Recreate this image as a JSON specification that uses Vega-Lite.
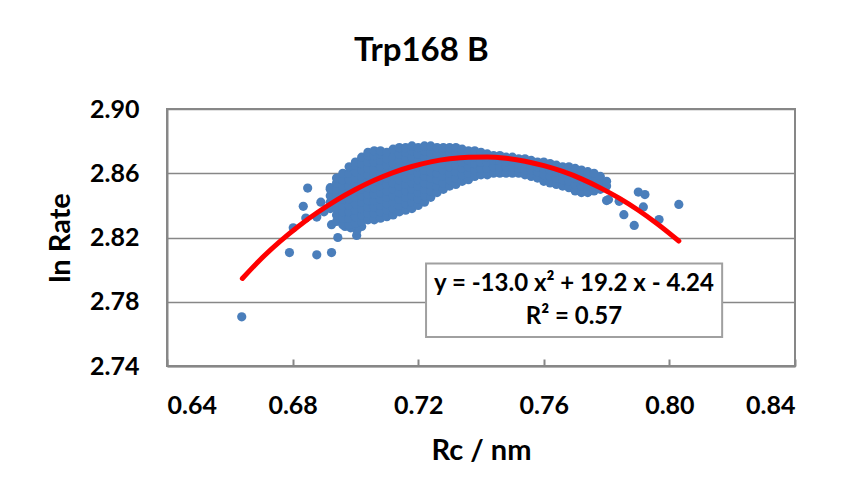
{
  "$schema": "https://vega.github.io/schema/vega-lite/v6.json",
  "autosize": {"type": "none"},
  "padding": {"left": 167, "top": 109, "right": 48, "bottom": 132},
  "width": 628,
  "height": 257,
  "background": "white",
  "title": {"text": "Trp168 B", "font": "Lato", "fontWeight": "bold", "fontSize": 33, "color": "black", "anchor": "middle", "frame": "bounds", "offset": 29},
  "config": {
    "view": {"stroke": "#878787", "strokeWidth": 2},
    "axis": {"labelFont": "Lato", "labelFontWeight": "bold", "labelFontSize": 25, "labelColor": "black", "titleFont": "Lato", "titleFontWeight": "bold", "titleFontSize": 29, "titleColor": "black", "domainColor": "#878787", "domainWidth": 2, "gridColor": "#878787", "gridWidth": 1.5, "tickColor": "#878787", "tickWidth": 2}
  },
  "datasets": {
    "pts": [
      {"x":0.6638,"y":2.7706},{"x":0.6790,"y":2.8106},{"x":0.6802,"y":2.8260},{"x":0.6842,"y":2.8321},{"x":0.6834,"y":2.8394},{"x":0.6848,"y":2.8508},{"x":0.6877,"y":2.8092},{"x":0.6924,"y":2.8106},{"x":0.6944,"y":2.8200},{"x":0.7004,"y":2.8213},{"x":0.6890,"y":2.8420},{"x":0.6877,"y":2.8327},{"x":0.6924,"y":2.8280},{"x":0.6967,"y":2.8269},{"x":0.7020,"y":2.8269},{"x":0.6924,"y":2.8494},{"x":0.6900,"y":2.8360},{"x":0.6920,"y":2.8510},{"x":0.7005,"y":2.8245},{"x":0.6985,"y":2.8260},
      {"x":0.7806,"y":2.8436},{"x":0.7840,"y":2.8425},{"x":0.7855,"y":2.8342},{"x":0.7888,"y":2.8275},{"x":0.7901,"y":2.8483},{"x":0.7922,"y":2.8467},{"x":0.7917,"y":2.8390},{"x":0.7967,"y":2.8312},{"x":0.8030,"y":2.8406},{"x":0.7800,"y":2.8430},
      {"x":0.692,"y":2.838},{"x":0.692,"y":2.842},{"x":0.692,"y":2.846},{"x":0.692,"y":2.850},
      {"x":0.694,"y":2.830},{"x":0.694,"y":2.834},{"x":0.694,"y":2.838},{"x":0.694,"y":2.842},{"x":0.694,"y":2.846},{"x":0.694,"y":2.850},{"x":0.694,"y":2.854},{"x":0.694,"y":2.857},
      {"x":0.696,"y":2.828},{"x":0.696,"y":2.832},{"x":0.696,"y":2.836},{"x":0.696,"y":2.840},{"x":0.696,"y":2.844},{"x":0.696,"y":2.848},{"x":0.696,"y":2.852},{"x":0.696,"y":2.856},{"x":0.696,"y":2.860},
      {"x":0.698,"y":2.828},{"x":0.698,"y":2.832},{"x":0.698,"y":2.836},{"x":0.698,"y":2.840},{"x":0.698,"y":2.844},{"x":0.698,"y":2.848},{"x":0.698,"y":2.852},{"x":0.698,"y":2.856},{"x":0.698,"y":2.860},{"x":0.698,"y":2.864},
      {"x":0.700,"y":2.829},{"x":0.700,"y":2.833},{"x":0.700,"y":2.837},{"x":0.700,"y":2.841},{"x":0.700,"y":2.845},{"x":0.700,"y":2.849},{"x":0.700,"y":2.853},{"x":0.700,"y":2.857},{"x":0.700,"y":2.861},{"x":0.700,"y":2.865},{"x":0.700,"y":2.867},
      {"x":0.702,"y":2.830},{"x":0.702,"y":2.834},{"x":0.702,"y":2.838},{"x":0.702,"y":2.842},{"x":0.702,"y":2.846},{"x":0.702,"y":2.850},{"x":0.702,"y":2.854},{"x":0.702,"y":2.858},{"x":0.702,"y":2.862},{"x":0.702,"y":2.866},{"x":0.702,"y":2.870},
      {"x":0.704,"y":2.831},{"x":0.704,"y":2.835},{"x":0.704,"y":2.839},{"x":0.704,"y":2.843},{"x":0.704,"y":2.847},{"x":0.704,"y":2.851},{"x":0.704,"y":2.855},{"x":0.704,"y":2.859},{"x":0.704,"y":2.863},{"x":0.704,"y":2.867},{"x":0.704,"y":2.871},{"x":0.704,"y":2.873},
      {"x":0.706,"y":2.831},{"x":0.706,"y":2.835},{"x":0.706,"y":2.839},{"x":0.706,"y":2.843},{"x":0.706,"y":2.847},{"x":0.706,"y":2.851},{"x":0.706,"y":2.855},{"x":0.706,"y":2.859},{"x":0.706,"y":2.863},{"x":0.706,"y":2.867},{"x":0.706,"y":2.871},{"x":0.706,"y":2.874},
      {"x":0.708,"y":2.832},{"x":0.708,"y":2.836},{"x":0.708,"y":2.840},{"x":0.708,"y":2.844},{"x":0.708,"y":2.848},{"x":0.708,"y":2.852},{"x":0.708,"y":2.856},{"x":0.708,"y":2.860},{"x":0.708,"y":2.864},{"x":0.708,"y":2.868},{"x":0.708,"y":2.872},{"x":0.708,"y":2.874},
      {"x":0.710,"y":2.833},{"x":0.710,"y":2.837},{"x":0.710,"y":2.841},{"x":0.710,"y":2.845},{"x":0.710,"y":2.849},{"x":0.710,"y":2.853},{"x":0.710,"y":2.857},{"x":0.710,"y":2.861},{"x":0.710,"y":2.865},{"x":0.710,"y":2.869},{"x":0.710,"y":2.873},
      {"x":0.712,"y":2.834},{"x":0.712,"y":2.838},{"x":0.712,"y":2.842},{"x":0.712,"y":2.846},{"x":0.712,"y":2.850},{"x":0.712,"y":2.854},{"x":0.712,"y":2.858},{"x":0.712,"y":2.862},{"x":0.712,"y":2.866},{"x":0.712,"y":2.870},{"x":0.712,"y":2.875},
      {"x":0.714,"y":2.836},{"x":0.714,"y":2.840},{"x":0.714,"y":2.844},{"x":0.714,"y":2.848},{"x":0.714,"y":2.852},{"x":0.714,"y":2.856},{"x":0.714,"y":2.860},{"x":0.714,"y":2.864},{"x":0.714,"y":2.868},{"x":0.714,"y":2.872},{"x":0.714,"y":2.876},
      {"x":0.716,"y":2.837},{"x":0.716,"y":2.841},{"x":0.716,"y":2.845},{"x":0.716,"y":2.849},{"x":0.716,"y":2.853},{"x":0.716,"y":2.857},{"x":0.716,"y":2.861},{"x":0.716,"y":2.865},{"x":0.716,"y":2.869},{"x":0.716,"y":2.873},{"x":0.716,"y":2.876},
      {"x":0.718,"y":2.838},{"x":0.718,"y":2.842},{"x":0.718,"y":2.846},{"x":0.718,"y":2.850},{"x":0.718,"y":2.854},{"x":0.718,"y":2.858},{"x":0.718,"y":2.862},{"x":0.718,"y":2.866},{"x":0.718,"y":2.870},{"x":0.718,"y":2.874},{"x":0.718,"y":2.877},
      {"x":0.720,"y":2.840},{"x":0.720,"y":2.844},{"x":0.720,"y":2.848},{"x":0.720,"y":2.852},{"x":0.720,"y":2.856},{"x":0.720,"y":2.860},{"x":0.720,"y":2.864},{"x":0.720,"y":2.868},{"x":0.720,"y":2.872},{"x":0.720,"y":2.876},
      {"x":0.722,"y":2.842},{"x":0.722,"y":2.846},{"x":0.722,"y":2.850},{"x":0.722,"y":2.854},{"x":0.722,"y":2.858},{"x":0.722,"y":2.862},{"x":0.722,"y":2.866},{"x":0.722,"y":2.870},{"x":0.722,"y":2.874},{"x":0.722,"y":2.877},
      {"x":0.724,"y":2.845},{"x":0.724,"y":2.849},{"x":0.724,"y":2.853},{"x":0.724,"y":2.857},{"x":0.724,"y":2.861},{"x":0.724,"y":2.865},{"x":0.724,"y":2.869},{"x":0.724,"y":2.873},{"x":0.724,"y":2.877},
      {"x":0.726,"y":2.848},{"x":0.726,"y":2.852},{"x":0.726,"y":2.856},{"x":0.726,"y":2.860},{"x":0.726,"y":2.864},{"x":0.726,"y":2.868},{"x":0.726,"y":2.872},{"x":0.726,"y":2.876},
      {"x":0.728,"y":2.850},{"x":0.728,"y":2.854},{"x":0.728,"y":2.858},{"x":0.728,"y":2.862},{"x":0.728,"y":2.866},{"x":0.728,"y":2.870},{"x":0.728,"y":2.874},{"x":0.728,"y":2.876},
      {"x":0.730,"y":2.852},{"x":0.730,"y":2.856},{"x":0.730,"y":2.860},{"x":0.730,"y":2.864},{"x":0.730,"y":2.868},{"x":0.730,"y":2.872},{"x":0.730,"y":2.876},
      {"x":0.732,"y":2.853},{"x":0.732,"y":2.857},{"x":0.732,"y":2.861},{"x":0.732,"y":2.865},{"x":0.732,"y":2.869},{"x":0.732,"y":2.873},{"x":0.732,"y":2.876},
      {"x":0.734,"y":2.855},{"x":0.734,"y":2.859},{"x":0.734,"y":2.863},{"x":0.734,"y":2.867},{"x":0.734,"y":2.871},{"x":0.734,"y":2.875},
      {"x":0.736,"y":2.856},{"x":0.736,"y":2.860},{"x":0.736,"y":2.864},{"x":0.736,"y":2.868},{"x":0.736,"y":2.872},{"x":0.736,"y":2.874},
      {"x":0.738,"y":2.858},{"x":0.738,"y":2.862},{"x":0.738,"y":2.866},{"x":0.738,"y":2.870},{"x":0.738,"y":2.874},
      {"x":0.740,"y":2.859},{"x":0.740,"y":2.863},{"x":0.740,"y":2.867},{"x":0.740,"y":2.871},{"x":0.740,"y":2.873},
      {"x":0.742,"y":2.859},{"x":0.742,"y":2.863},{"x":0.742,"y":2.867},{"x":0.742,"y":2.870},{"x":0.742,"y":2.872},
      {"x":0.744,"y":2.860},{"x":0.744,"y":2.864},{"x":0.744,"y":2.868},{"x":0.744,"y":2.871},
      {"x":0.746,"y":2.860},{"x":0.746,"y":2.864},{"x":0.746,"y":2.868},{"x":0.746,"y":2.871},
      {"x":0.748,"y":2.860},{"x":0.748,"y":2.864},{"x":0.748,"y":2.867},{"x":0.748,"y":2.870},
      {"x":0.750,"y":2.860},{"x":0.750,"y":2.864},{"x":0.750,"y":2.867},{"x":0.750,"y":2.870},
      {"x":0.752,"y":2.860},{"x":0.752,"y":2.863},{"x":0.752,"y":2.866},{"x":0.752,"y":2.869},
      {"x":0.754,"y":2.859},{"x":0.754,"y":2.862},{"x":0.754,"y":2.866},{"x":0.754,"y":2.869},
      {"x":0.756,"y":2.858},{"x":0.756,"y":2.862},{"x":0.756,"y":2.865},{"x":0.756,"y":2.868},
      {"x":0.758,"y":2.857},{"x":0.758,"y":2.861},{"x":0.758,"y":2.864},{"x":0.758,"y":2.867},
      {"x":0.760,"y":2.855},{"x":0.760,"y":2.859},{"x":0.760,"y":2.863},{"x":0.760,"y":2.867},
      {"x":0.762,"y":2.854},{"x":0.762,"y":2.858},{"x":0.762,"y":2.862},{"x":0.762,"y":2.866},
      {"x":0.764,"y":2.853},{"x":0.764,"y":2.857},{"x":0.764,"y":2.861},{"x":0.764,"y":2.865},
      {"x":0.766,"y":2.852},{"x":0.766,"y":2.856},{"x":0.766,"y":2.860},{"x":0.766,"y":2.864},
      {"x":0.768,"y":2.851},{"x":0.768,"y":2.855},{"x":0.768,"y":2.859},{"x":0.768,"y":2.864},
      {"x":0.770,"y":2.849},{"x":0.770,"y":2.853},{"x":0.770,"y":2.857},{"x":0.770,"y":2.861},{"x":0.770,"y":2.863},
      {"x":0.772,"y":2.848},{"x":0.772,"y":2.852},{"x":0.772,"y":2.856},{"x":0.772,"y":2.860},{"x":0.772,"y":2.862},
      {"x":0.774,"y":2.848},{"x":0.774,"y":2.852},{"x":0.774,"y":2.856},{"x":0.774,"y":2.859},{"x":0.774,"y":2.861},
      {"x":0.776,"y":2.849},{"x":0.776,"y":2.853},{"x":0.776,"y":2.857},{"x":0.776,"y":2.860},
      {"x":0.778,"y":2.850},{"x":0.778,"y":2.854},{"x":0.778,"y":2.858},
      {"x":0.780,"y":2.852},{"x":0.780,"y":2.855}
    ],
    "fit": [
      {"x":0.664,"y":2.7945},{"x":0.670,"y":2.8068},{"x":0.676,"y":2.8176},{"x":0.682,"y":2.8272},{"x":0.688,"y":2.8357},{"x":0.694,"y":2.8433},{"x":0.700,"y":2.8499},{"x":0.706,"y":2.8556},{"x":0.712,"y":2.8604},{"x":0.718,"y":2.8642},{"x":0.724,"y":2.8671},{"x":0.730,"y":2.8690},{"x":0.736,"y":2.8700},{"x":0.742,"y":2.8701},{"x":0.748,"y":2.8693},{"x":0.754,"y":2.8675},{"x":0.760,"y":2.8647},{"x":0.766,"y":2.8611},{"x":0.772,"y":2.8565},{"x":0.778,"y":2.8509},{"x":0.784,"y":2.8445},{"x":0.790,"y":2.8371},{"x":0.796,"y":2.8287},{"x":0.803,"y":2.8178}
    ],
    "box": [{"x1":0.7225,"x2":0.8168,"y1":2.7581,"y2":2.8038}],
    "eq": [
      {"x":0.7696,"y":2.7913,"label":"y = -13.0 x² + 19.2 x - 4.24"},
      {"x":0.7696,"y":2.7706,"label":"R² = 0.57"}
    ]
  },
  "layer": [
    {
      "data": {"name": "pts"},
      "mark": {"type": "point", "filled": true, "shape": "circle", "size": 85, "color": "#4a7ebb", "opacity": 1},
      "encoding": {
        "x": {"field": "x", "type": "quantitative", "scale": {"domain": [0.64, 0.84], "nice": false, "zero": false},
              "axis": {"values": [0.64, 0.68, 0.72, 0.76, 0.80, 0.84], "format": ".2f", "title": "Rc / nm", "grid": false, "tickSize": -7, "labelPadding": 34, "titlePadding": 18}},
        "y": {"field": "y", "type": "quantitative", "scale": {"domain": [2.74, 2.90], "nice": false, "zero": false},
              "axis": {"values": [2.74, 2.78, 2.82, 2.86, 2.90], "format": ".2f", "title": "ln Rate", "ticks": false, "labelPadding": 28, "titlePadding": 14}}
      }
    },
    {
      "data": {"name": "fit"},
      "mark": {"type": "line", "color": "#ff0000", "strokeWidth": 5, "interpolate": "monotone", "strokeCap": "round"},
      "encoding": {"x": {"field": "x", "type": "quantitative"}, "y": {"field": "y", "type": "quantitative"}}
    },
    {
      "data": {"name": "box"},
      "mark": {"type": "rect", "fill": "white", "stroke": "#a0a0a0", "strokeWidth": 2},
      "encoding": {"x": {"field": "x1", "type": "quantitative"}, "x2": {"field": "x2"}, "y": {"field": "y1", "type": "quantitative"}, "y2": {"field": "y2"}}
    },
    {
      "data": {"name": "eq"},
      "mark": {"type": "text", "font": "Lato", "fontWeight": "bold", "fontSize": 24, "color": "black", "align": "center", "baseline": "middle"},
      "encoding": {"x": {"field": "x", "type": "quantitative"}, "y": {"field": "y", "type": "quantitative"}, "text": {"field": "label"}}
    }
  ]
}
